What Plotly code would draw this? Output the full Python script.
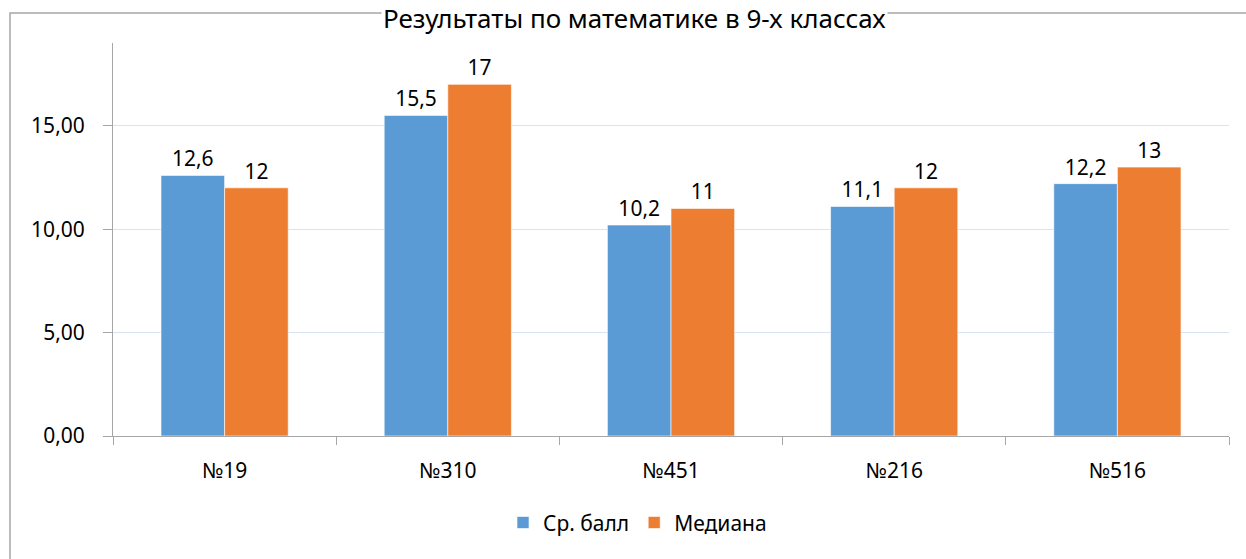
import plotly.graph_objects as go

schools = ["№19", "№310", "№451", "№216", "№516"]
avg_score = [12.6, 15.5, 10.2, 11.1, 12.2]
median = [12, 17, 11, 12, 13]


def fmt(v):
    s = ("%g" % v)
    return s.replace(".", ",")


font = dict(family="Noto Sans, Open Sans, sans-serif", size=21, color="#000000")

fig = go.Figure()
fig.add_trace(go.Bar(x=schools, y=avg_score, name="Ср. балл",
                     marker=dict(color="#5B9BD5", line=dict(color="#ffffff", width=0.6)),
                     text=[fmt(v) for v in avg_score], textposition="outside",
                     cliponaxis=False, textfont=font))
fig.add_trace(go.Bar(x=schools, y=median, name="Медиана",
                     marker=dict(color="#ED7D31", line=dict(color="#ffffff", width=0.6)),
                     text=[fmt(v) for v in median], textposition="outside",
                     cliponaxis=False, textfont=font))

fig.update_layout(
    width=1246, height=559,
    margin=dict(l=113, r=17, t=43, b=123),
    paper_bgcolor="white", plot_bgcolor="white",
    font=font,
    separators=", ",
    barmode="group", bargap=0.43, bargroupgap=0,
    showlegend=True,
    legend=dict(orientation="h", x=0.47, xanchor="center", y=-0.221, yanchor="middle",
                font=font, itemwidth=30),
    xaxis=dict(showline=True, linecolor="#A6A6A6", linewidth=1,
               ticks="outside", tickson="boundaries", ticklen=8, tickcolor="#A6A6A6",
               ticklabelstandoff=16, showgrid=False),
    yaxis=dict(range=[0, 19], tickvals=[0, 5, 10, 15], tickformat=".2f",
               showline=True, linecolor="#A6A6A6", linewidth=1,
               ticks="outside", ticklen=9, tickcolor="#A6A6A6", ticklabelstandoff=14,
               showgrid=True, gridcolor="#D6E4F4", gridwidth=1, zeroline=False),
    shapes=[dict(type="rect", xref="paper", yref="paper", x0=-0.0923, x1=1.05,
                 y0=-0.5, y1=1.0763, line=dict(color="#A6A6A6", width=1.5),
                 fillcolor="rgba(0,0,0,0)", layer="below")],
    annotations=[dict(text="Результаты по математике в 9-х классах", xref="paper",
                      yref="paper", x=0.4677, y=1.0636, xanchor="center",
                      yanchor="middle", showarrow=False,
                      font=dict(family=font["family"], size=26, color="#000000"),
                      bgcolor="white")],
)

fig.write_html("out.html", config={"displayModeBar": False},
               post_script="document.body.style.margin='0';")
